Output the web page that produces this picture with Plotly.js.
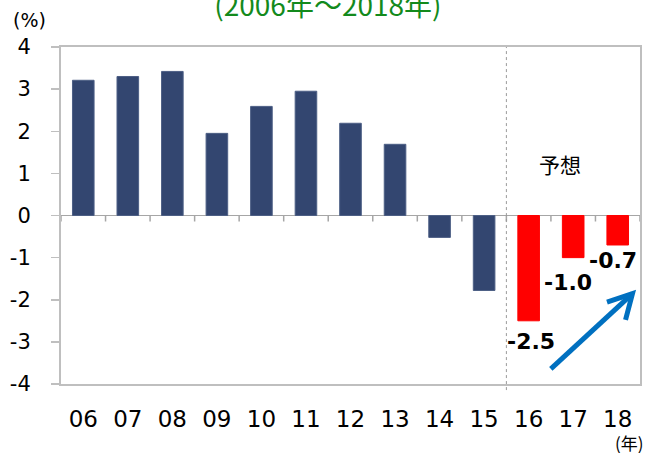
<!DOCTYPE html>
<html>
<head>
<meta charset="utf-8">
<script src="https://cdn.plot.ly/plotly-3.0.1.min.js"></script>
<style>html,body{margin:0;padding:0;background:#fff;}#chart{width:648px;height:453px;}</style>
</head>
<body>
<div id="chart"></div>
<script>
// Data
const years = ['06','07','08','09','10','11','12','13','14','15','16','17','18'];
const values = [3.21, 3.30, 3.42, 1.95, 2.59, 2.95, 2.19, 1.69, -0.52, -1.78, -2.5, -1.0, -0.7];
const forecastFrom = '16';
const forecastLabels = ['-2.5', '-1.0', '-0.7'];
const yTicks = [-4, -3, -2, -1, 0, 1, 2, 3, 4];
const yTickText = ['-4', '-3', '-2', '-1', '0', '1', '2', '3', '4'];
const titleText = '(2006年～2018年)';

// label placement tweaks (style, not data)
const labelXShift = [2, -5, -5];
const labelYShift = [-6, -10, -1];

const NAVY = '#334670';
const RED = '#ff0000';
const GRID = '#bfbfbf';
const startIdx = years.indexOf(forecastFrom);

const colors = years.map((y, i) => i >= startIdx ? RED : NAVY);
const lineColors = years.map((y, i) => i >= startIdx ? RED : '#4d5f85');

const trace = {
  type: 'bar',
  x: years,
  y: values,
  marker: {color: colors, line: {color: lineColors, width: 1}},
  hoverinfo: 'skip'
};

const shapes = [];
// tick marks on the zero line at category boundaries
for (let i = 0; i <= years.length; i++) {
  shapes.push({
    type: 'line', xref: 'x', yref: 'y', ysizemode: 'pixel', yanchor: 0,
    x0: i - 0.5, x1: i - 0.5, y0: 0, y1: -6,
    line: {color: '#a6a6a6', width: 1.5}
  });
}
// dotted separator between actual and forecast
shapes.push({
  type: 'line', xref: 'x', yref: 'paper',
  x0: startIdx - 0.5, x1: startIdx - 0.5, y0: -0.018, y1: 1,
  line: {color: '#9a9a9a', width: 1, dash: 'dot'}
});
// blue arrow (decorative), in plot-area paper coordinates
shapes.push({
  type: 'path', xref: 'paper', yref: 'paper',
  path: 'M 0.846 0.045 L 0.987 0.268',
  line: {color: '#0070c0', width: 5}
});
shapes.push({
  type: 'path', xref: 'paper', yref: 'paper',
  path: 'M 0.943 0.243 L 0.987 0.268 L 0.975 0.190',
  line: {color: '#0070c0', width: 5}
});

const annotations = [];
forecastLabels.forEach((t, k) => {
  const i = startIdx + k;
  annotations.push({
    x: i, y: values[i], xref: 'x', yref: 'y',
    text: t, showarrow: false, yanchor: 'top', xanchor: 'center',
    xshift: labelXShift[k], yshift: labelYShift[k],
    font: {family: 'DejaVu Sans', size: 22, color: '#000', weight: 'bold'}
  });
});
annotations.push({
  xref: 'paper', yref: 'paper', x: 0.862, y: 0.652,
  text: '予想', showarrow: false, xanchor: 'center', yanchor: 'middle',
  font: {family: 'Noto Sans CJK JP', size: 21, color: '#000'}
});
annotations.push({
  xref: 'paper', yref: 'paper', x: -0.055, y: 1.08,
  text: '(%)', showarrow: false, xanchor: 'center', yanchor: 'middle',
  font: {family: 'DejaVu Sans', size: 19, color: '#000'}
});
annotations.push({
  xref: 'paper', yref: 'paper', x: 1.0104, y: -0.175,
  text: '(年)', showarrow: false, xanchor: 'right', yanchor: 'middle',
  font: {family: 'Noto Sans CJK JP', size: 17, color: '#000'}
});

const layout = {
  width: 648, height: 453,
  margin: {l: 61, r: 8, t: 47, b: 69},
  paper_bgcolor: '#fff', plot_bgcolor: '#fff',
  showlegend: false,
  bargap: 0.515,
  title: {
    text: titleText, x: 0.461, xanchor: 'center', xref: 'paper',
    y: 0.986, yanchor: 'middle', yref: 'container',
    font: {family: 'Noto Sans CJK JP', size: 28, color: '#138a1c'}
  },
  xaxis: {
    type: 'category', range: [-0.5, years.length - 0.5],
    showline: true, mirror: true, linecolor: GRID, linewidth: 2,
    ticks: '', showgrid: false, zeroline: false,
    ticklabelstandoff: 13,
    tickfont: {family: 'DejaVu Sans', size: 23, color: '#000'},
    fixedrange: true
  },
  yaxis: {
    range: [-4, 4], tickvals: yTicks, ticktext: yTickText,
    showline: true, mirror: true, linecolor: GRID, linewidth: 2,
    ticks: 'outside', ticklen: 8, tickcolor: GRID, tickwidth: 1.5,
    showgrid: false,
    zeroline: true, zerolinecolor: '#a6a6a6', zerolinewidth: 1.5,
    ticklabelstandoff: 16,
    tickfont: {family: 'DejaVu Sans', size: 21, color: '#000'},
    fixedrange: true
  },
  shapes: shapes,
  annotations: annotations
};

Plotly.newPlot('chart', [trace], layout, {displayModeBar: false, staticPlot: true});
</script>
</body>
</html>
